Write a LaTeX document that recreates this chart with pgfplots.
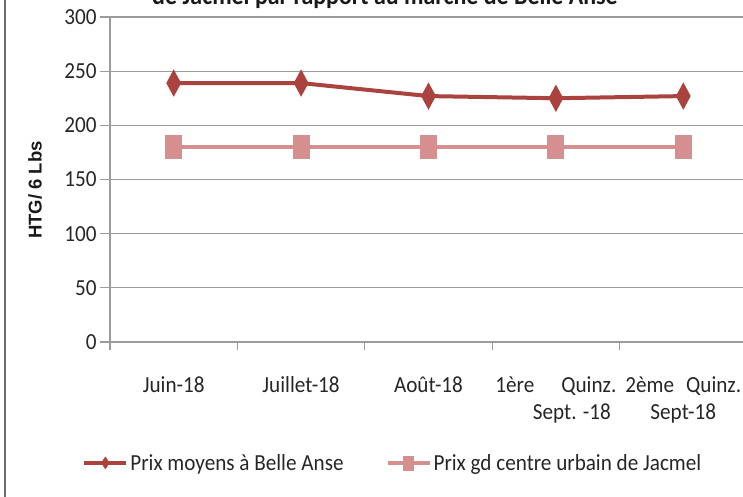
\documentclass[border=0pt]{standalone}
\usepackage{fontspec}
\setmainfont{Carlito}[FakeStretch=0.92]
\newfontfamily\labfont{Liberation Sans}
\usepackage{pgfplots}
\pgfplotsset{compat=1.18}
\definecolor{BelleRed}{RGB}{170,66,62}
\definecolor{JacPink}{RGB}{213,143,142}
\definecolor{GridGrey}{RGB}{155,155,155}
\newcommand\tickfont{\fontsize{23bp}{27bp}\selectfont}

\begin{document}
\begin{tikzpicture}
\begin{axis}[
  at={(110bp,155bp)}, anchor=south west,
  scale only axis, width=637bp, height=325bp,
  xmin=0.5, xmax=5.5, ymin=0, ymax=300,
  ytick={0,50,...,300},
  /pgf/number format/assume math mode=true,
  xtick={1,...,5},
  xticklabels={Juin-18,Juillet-18,Août-18,{1ère\hspace{27bp}Quinz.\\\hspace*{32bp}Sept. -18},{2ème\hspace{12bp}Quinz.\\Sept-18}},
  xticklabel style={align=center, yshift=-21bp},
  minor xtick={0.5,1.5,...,5.5},
  major x tick style={draw=none},
  tick align=outside, major tick length=10bp, minor tick length=8bp,
  ymajorgrids, grid style={GridGrey, line width=1.2bp},
  axis x line*=bottom, axis y line*=left,
  axis line style={GridGrey, line width=1.2bp},
  tick style={GridGrey, line width=1.2bp},
  tick label style={font=\tickfont, text=black!85},
  legend style={at={(0.444,-0.372)}, anchor=center, draw=none, fill=none,
    legend columns=2, font=\tickfont, text=black!85, inner sep=0pt,
    /tikz/every even column/.append style={column sep=40bp}},
  legend cell align=left,
]
\addplot[BelleRed, line width=4bp, mark=diamond*, mark size=9.5bp,
  mark options={xscale=0.72, solid}, forget plot] coordinates {
  (1,239)(2,239)(3,227)(4,225)(5,227)
};
\addplot[JacPink, line width=4bp, mark=square*, mark size=10bp,
  mark options={xscale=0.65, solid}, forget plot] coordinates {
  (1,180)(2,180)(3,180)(4,180)(5,180)
};
\addlegendimage{legend image code/.code={
  \draw[BelleRed, line width=4bp] (0bp,0bp) -- (42bp,0bp);
  \fill[BelleRed] (21bp,6bp) -- (25bp,0bp) -- (21bp,-6bp) -- (17bp,0bp) -- cycle;}}
\addlegendentry{Prix moyens à Belle Anse}
\addlegendimage{legend image code/.code={
  \draw[JacPink, line width=4bp] (0bp,0bp) -- (42bp,0bp);
  \fill[JacPink] (16bp,7bp) rectangle (26bp,-7bp);}}
\addlegendentry{Prix gd centre urbain de Jacmel}
\end{axis}
\node[rotate=90, font=\labfont\bfseries\fontsize{18.5bp}{20bp}\selectfont, text=black!90]
  at (35bp,307bp) {HTG/ 6 Lbs};
\node[font=\bfseries\fontsize{26bp}{28bp}\selectfont, anchor=base, text=black!90]
  at (385bp,492bp) {de Jacmel par rapport au marché de Belle Anse};
\draw[GridGrey!70!black, line width=2bp] (5bp,0) -- (5bp,497bp);
\pgfresetboundingbox
\useasboundingbox (0,0) rectangle (743bp,497bp);
\end{tikzpicture}
\end{document}
